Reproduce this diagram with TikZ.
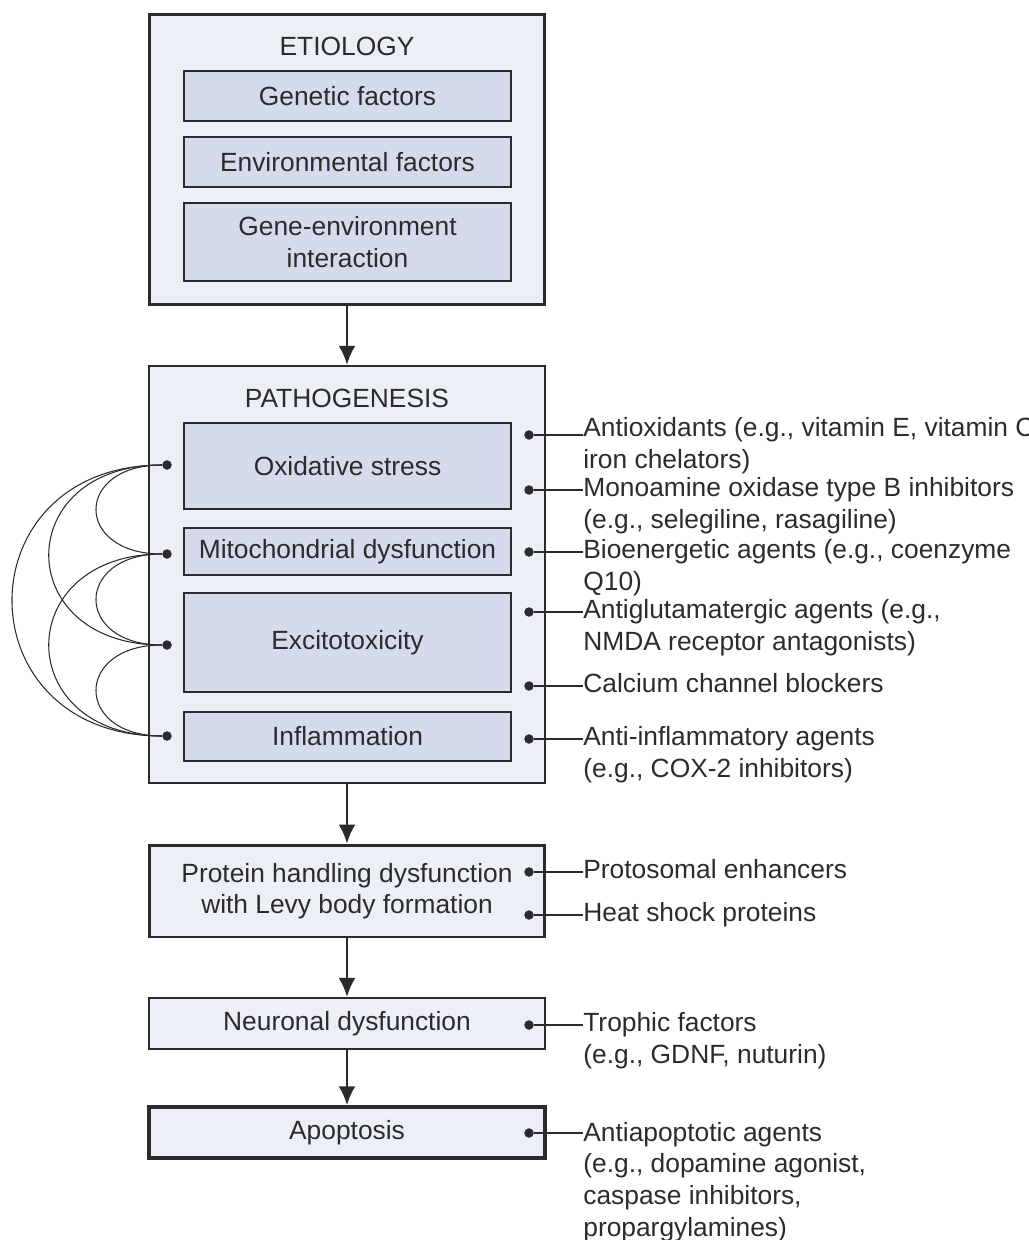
\documentclass[tikz,border=0pt]{standalone}
\usepackage{fontspec}
\setmainfont{Liberation Sans}
\usetikzlibrary{arrows.meta}
\definecolor{boxback}{HTML}{EDEFF6}
\definecolor{boxin}{HTML}{D5DBEC}
\definecolor{ink}{HTML}{2B2B2B}

\begin{document}
\begin{tikzpicture}[x=0.02cm, y=-0.02cm,
  every node/.style={font=\fontsize{15}{18}\selectfont, text=ink},
  outer/.style={draw=ink, fill=boxback, line width=1.7pt, minimum width=7.92cm, align=center},
  inner/.style={draw=ink, fill=boxin, line width=0.9pt, minimum width=6.54cm, align=center},
  dot/.style={circle, fill=ink, inner sep=0pt, minimum size=0.19cm},
  note/.style={anchor=base west, align=left, inner sep=0pt},
  flow/.style={-{Latex[length=0.38cm,width=0.34cm]}, line width=1.5pt, draw=ink},
  link/.style={draw=ink, line width=0.6pt}]

\useasboundingbox (0,0) rectangle (1028,1240);

\node[outer, minimum height=5.82cm] (etio) at (347,159.5) {};
\node (etiotitle) at (347,46) {ETIOLOGY};
\node[inner, minimum height=1cm] (gen) at (347.5,96) {Genetic factors};
\node[inner, minimum height=1cm] (env) at (347.5,162) {Environmental factors};
\node[inner, minimum height=1.56cm] (gxe) at (347.5,242) {Gene-environment\\interaction};

\node[outer, line width=1.4pt, minimum height=8.34cm] (patho) at (347,574.5) {};
\node (pathotitle) at (347,398) {PATHOGENESIS};
\node[inner, minimum height=1.72cm] (oxi) at (347.5,466) {Oxidative stress};
\node[inner, minimum height=0.94cm] (mito) at (347.5,551.5) {Mitochondrial dysfunction};
\node[inner, minimum height=1.98cm] (exci) at (347.5,642.5) {Excitotoxicity};
\node[inner, minimum height=0.98cm] (infl) at (347.5,736.5) {Inflammation};

\node[outer, minimum height=1.84cm] (prot) at (347,891) {Protein handling dysfunction\\with Levy body formation};
\node[outer, line width=1.2pt, minimum height=1.02cm] (neur) at (347,1023.5) {Neuronal dysfunction};
\node[outer, line width=2pt, minimum height=1.02cm] (apop) at (347,1132.5) {Apoptosis};

\draw[flow] (etio) -- (patho);
\draw[flow] (patho) -- (prot);
\draw[flow] (prot) -- (neur);
\draw[flow] (neur) -- (apop);

\node[dot] (l1) at (167,465) {};
\node[dot] (l2) at (167,554) {};
\node[dot] (l3) at (167,645) {};
\node[dot] (l4) at (167,736) {};

\draw[link] (l1) .. controls +(-93,0) and +(-93,0) .. (l2);
\draw[link] (l2) .. controls +(-93,0) and +(-93,0) .. (l3);
\draw[link] (l3) .. controls +(-93,0) and +(-93,0) .. (l4);
\draw[link] (l1) .. controls +(-156,0) and +(-156,0) .. (l3);
\draw[link] (l2) .. controls +(-156,0) and +(-156,0) .. (l4);
\draw[link] (l1) .. controls +(-205,0) and +(-205,0) .. (l4);

\node[dot] (r1) at (529,435) {};
\node[dot] (r2) at (529,490) {};
\node[dot] (r3) at (529,552) {};
\node[dot] (r4) at (529,612) {};
\node[dot] (r5) at (529,686) {};
\node[dot] (r6) at (529,739) {};
\node[dot] (r7) at (529,872) {};
\node[dot] (r8) at (529,915) {};
\node[dot] (r9) at (529,1025) {};
\node[dot] (r10) at (529,1133) {};

\node[note] (t1) at (583,468) {Antioxidants (e.g., vitamin E, vitamin C,\\iron chelators)};
\node[note] (t2) at (583,528) {Monoamine oxidase type B inhibitors\\(e.g., selegiline, rasagiline)};
\node[note] (t3) at (583,590) {Bioenergetic agents (e.g., coenzyme\\Q10)};
\node[note] (t4) at (583,650) {Antiglutamatergic agents (e.g.,\\NMDA receptor antagonists)};
\node[note] (t5) at (583,692) {Calcium channel blockers};
\node[note] (t6) at (583,777) {Anti-inflammatory agents\\(e.g., COX-2 inhibitors)};
\node[note] (t7) at (583,878) {Protosomal enhancers};
\node[note] (t8) at (583,921) {Heat shock proteins};
\node[note] (t9) at (583,1063) {Trophic factors\\(e.g., GDNF, nuturin)};
\node[note] (t10) at (583,1236) {Antiapoptotic agents\\(e.g., dopamine agonist,\\caspase inhibitors,\\propargylamines)};

\draw[link] (r1) -- (r1 -| t1.west);
\draw[link] (r2) -- (r2 -| t2.west);
\draw[link] (r3) -- (r3 -| t3.west);
\draw[link] (r4) -- (r4 -| t4.west);
\draw[link] (r5) -- (r5 -| t5.west);
\draw[link] (r6) -- (r6 -| t6.west);
\draw[link] (r7) -- (r7 -| t7.west);
\draw[link] (r8) -- (r8 -| t8.west);
\draw[link] (r9) -- (r9 -| t9.west);
\draw[link] (r10) -- (r10 -| t10.west);
\end{tikzpicture}
\end{document}
